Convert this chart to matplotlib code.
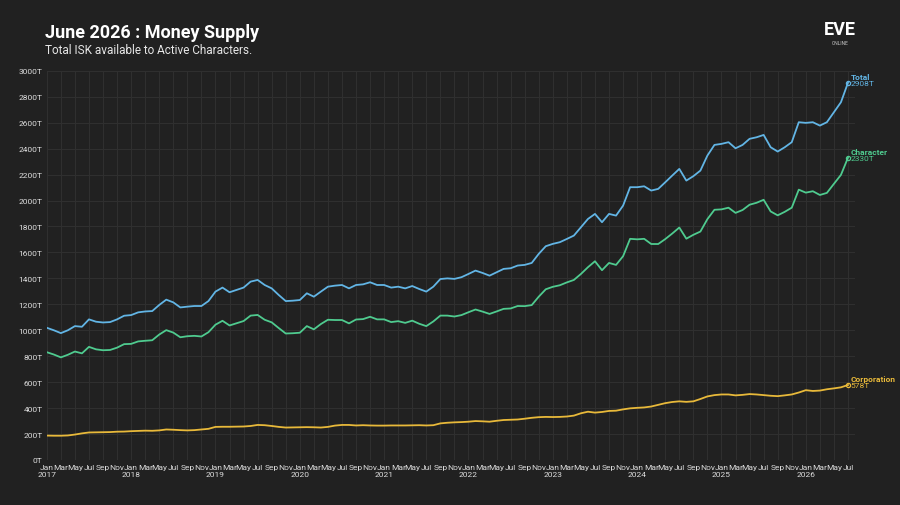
import numpy as np
import matplotlib.pyplot as plt

# monthly values, Jan 2017 .. Jul 2026 (T ISK)
total = [1019, 1000, 978, 1000, 1032, 1027, 1084, 1066, 1060, 1063, 1084, 1112,
         1117, 1138, 1145, 1148, 1195, 1236, 1215, 1176, 1182, 1187, 1187, 1225,
         1298, 1329, 1293, 1311, 1329, 1375, 1388, 1349, 1323, 1272, 1225, 1228,
         1233, 1285, 1259, 1298, 1336, 1344, 1349, 1323, 1349, 1354, 1370, 1349,
         1349, 1329, 1336, 1323, 1341, 1318, 1298, 1336, 1395, 1400, 1396, 1409,
         1434, 1460, 1442, 1421, 1447, 1473, 1478, 1499, 1504, 1519, 1589, 1648,
         1666, 1679, 1704, 1730, 1794, 1858, 1897, 1833, 1897, 1884, 1961, 2103,
         2103, 2110, 2077, 2090, 2141, 2193, 2244, 2154, 2188, 2231, 2347, 2429,
         2437, 2450, 2403, 2429, 2476, 2488, 2506, 2411, 2378, 2411, 2450, 2604,
         2599, 2604, 2578, 2604, 2681, 2758, 2908]
corporation = [188, 187, 187, 189, 196, 205, 212, 213, 214, 215, 218, 219,
               222, 224, 226, 225, 228, 235, 233, 230, 228, 230, 235, 240,
               255, 256, 256, 257, 258, 262, 270, 268, 262, 255, 250, 251,
               252, 253, 252, 250, 255, 265, 270, 270, 266, 268, 266, 265,
               265, 266, 266, 266, 267, 268, 266, 268, 282, 287, 290, 292,
               295, 300, 298, 295, 302, 308, 310, 312, 318, 325, 330, 332,
               331, 332, 335, 342, 360, 372, 365, 370, 378, 380, 390, 398,
               402, 405, 412, 425, 438, 447, 452, 448, 452, 470, 490, 500,
               505, 505, 498, 502, 508, 505, 500, 495, 492, 498, 505, 520,
               538, 532, 535, 545, 552, 560, 578]
character = [t - c for t, c in zip(total, corporation)]

months = ['Jan', 'Feb', 'Mar', 'Apr', 'May', 'Jun', 'Jul', 'Aug', 'Sep', 'Oct', 'Nov', 'Dec']
bg = '#212121'
c_total = '#62b5e5'
c_char = '#4fcb8f'
c_corp = '#e8b93a'

plt.rcParams['font.family'] = ['Roboto', 'DejaVu Sans']
fig = plt.figure(figsize=(9, 5.06), dpi=100, facecolor=bg)
ax = fig.add_axes([0.052, 0.089, 0.898, 0.769], facecolor=bg)

x = np.arange(len(total))
for ser, col, name in [(total, c_total, 'Total'), (character, c_char, 'Character'),
                       (corporation, c_corp, 'Corporation')]:
    ax.plot(x, ser, color=col, lw=1.3, solid_joinstyle='round')
    ax.plot(x[-1], ser[-1], 'o', ms=3, mfc='none', mec=col, mew=0.9)
    ax.text(x[-1] + 0.4, ser[-1] + 25, name, color=col, fontsize=6,
            fontweight='bold', va='bottom', ha='left')
    ax.text(x[-1] + 0.4, ser[-1] + 25, f'{ser[-1]}T', color=col, fontsize=6,
            va='top', ha='left')

ax.set_xlim(0, 115)
ax.set_ylim(0, 3000)
ticks = np.arange(0, len(total), 2)
labels = [months[m % 12] + (f'\n{2017 + m // 12}' if m % 12 == 0 else '') for m in ticks]
ax.set_xticks(ticks)
ax.set_xticklabels(labels, fontsize=6, color='#dddddd')
ax.set_yticks(np.arange(0, 3001, 200))
ax.set_yticklabels([f'{v}T' for v in range(0, 3001, 200)], fontsize=6, color='#dddddd')
ax.tick_params(length=0, pad=3)
ax.grid(True, color='#2f2f2f', lw=0.8)
ax.set_axisbelow(True)
for s in ax.spines.values():
    s.set_visible(False)

fig.text(0.05, 0.935, 'June 2026 : Money Supply', color='white', fontsize=13,
         fontweight='bold', va='center')
fig.text(0.05, 0.9, 'Total ISK available to Active Characters.', color='#e6e6e6',
         fontsize=8.5, va='center')
fig.text(0.933, 0.94, 'EVE', color='white', fontsize=13, fontweight='bold',
         ha='center', va='center')
fig.text(0.933, 0.915, 'ONLINE', color='#cccccc', fontsize=3.5, ha='center', va='center')

fig.savefig('out.png', dpi=100, facecolor=bg)
